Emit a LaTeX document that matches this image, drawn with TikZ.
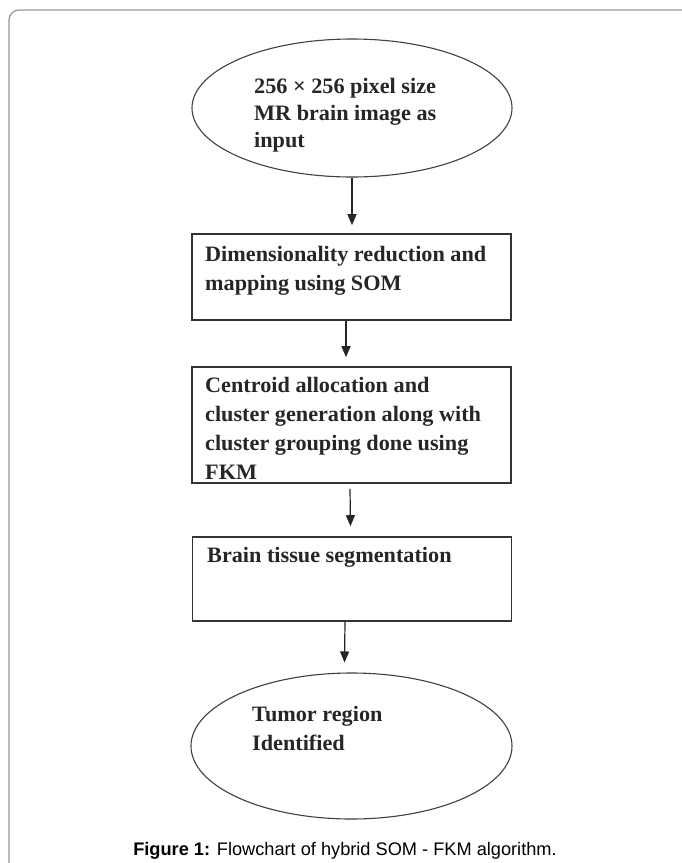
\documentclass[tikz,border=0pt]{standalone}
\usepackage{fontspec}
\setmainfont{Liberation Serif}[FakeStretch=1.01]
\newfontfamily\capfont{Liberation Sans}
\usetikzlibrary{shapes.geometric,arrows.meta}
\begin{document}
\begin{tikzpicture}[x=1pt,y=-1pt,
  boxline/.style={draw=black!80, line width=1.6pt, inner sep=0, minimum width=319pt},
  ovalline/.style={draw=black!75, line width=1.1pt, ellipse, inner sep=0, minimum width=320pt},
  boxtext/.style={anchor=base west, inner sep=0, align=left, text=black!85,
    font=\bfseries\fontsize{22}{28.7}\selectfont},
  flow/.style={draw=black!85, line width=1.2pt, -{Triangle[length=11pt,width=9pt]}},
  frameline/.style={draw=black!40, line width=1.3pt, rounded corners=10pt}]
\useasboundingbox (0,0) rectangle (681,863);
\fill[white] (0,0) rectangle (681,863);
\draw[frameline] (9,870) -- (9,10) -- (690,10);

\node[ovalline, minimum height=138pt] (e1) at (352,108) {};
\node[boxline, minimum height=86pt] (b2) at (351.5,277) {};
\node[boxline, minimum height=116pt] (b3) at (351.5,425) {};
\node[boxline, minimum height=84pt] (b4) at (352,579) {};
\node[ovalline, minimum height=146pt, minimum width=321pt] (e2) at (351.5,746) {};

% anchor base = baseline of the last line
\node[boxtext, font=\bfseries\fontsize{22}{27}\selectfont] (t1) at (254,147) {256 × 256 pixel size\\MR brain image as\\input};
\node[boxtext] (t2) at (205,290) {Dimensionality reduction and\\mapping using SOM};
\node[boxtext] (t3) at (205,479) {Centroid allocation and\\cluster generation along with\\cluster grouping done using\\FKM};
\node[boxtext] (t4) at (207,562) {Brain tissue segmentation};
\node[boxtext] (t5) at (252,750) {Tumor region\\Identified};

\draw[flow] (e1.south) -- ([yshift=8pt]b2.north -| e1.south);
\draw[flow] ([xshift=-5.5pt]b2.south) -- ([xshift=-5.5pt,yshift=9pt]b3.north);
\draw[flow] ([xshift=-1.5pt,yshift=-5pt]b3.south) -- ([xshift=-1.5pt,yshift=10pt]b4.north);
\draw[flow] ([xshift=-7pt]b4.south) -- ([xshift=-7pt,yshift=10pt]e2.north);

\node[anchor=base, inner sep=0, font=\capfont\fontsize{18.2}{22}\selectfont] (cap) at (345,855)
  {\textbf{Figure 1:} Flowchart of hybrid SOM - FKM algorithm.};
\end{tikzpicture}
\end{document}
